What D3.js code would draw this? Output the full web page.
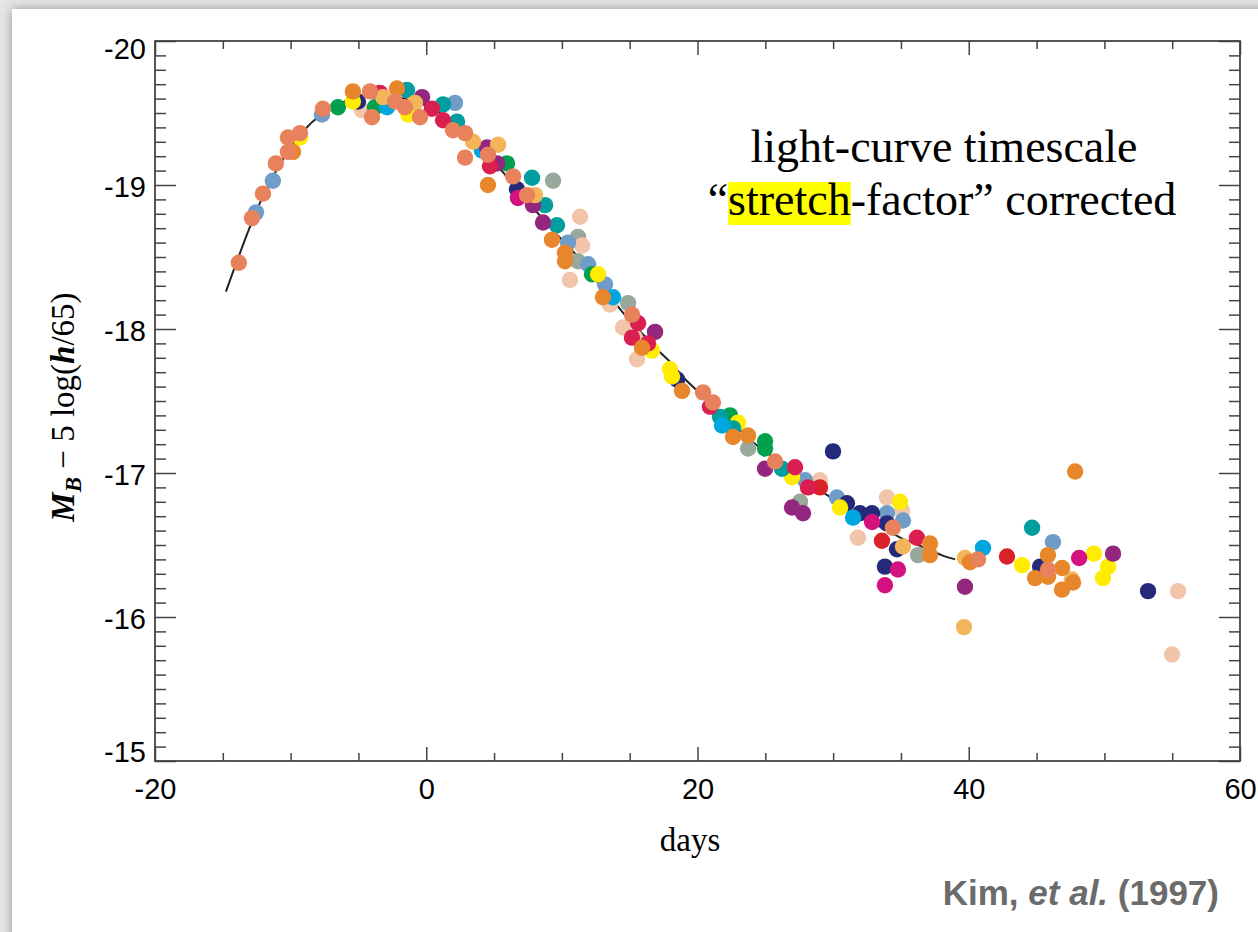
<!DOCTYPE html>
<html><head><meta charset="utf-8">
<script src="https://cdn.jsdelivr.net/npm/d3@7/dist/d3.min.js"></script>
<style>html,body{margin:0;padding:0;background:#e6e6e6;overflow:hidden}</style>
</head><body><svg id="c" width="1258" height="932"></svg>
<script>
// ---- data (day, M_B - 5 log(h/65)) per supernova colour group ----
const salmon = [[-13.82,-18.46],[-12.85,-18.77],[-12.04,-18.94],[-11.09,-19.15],[-10.20,-19.33],[-10.20,-19.23],[-9.31,-19.36],[-7.62,-19.53],[-4.15,-19.65],[-4.00,-19.47],[-2.30,-19.58],[-1.57,-19.54],[-0.46,-19.47],[1.97,-19.38],[2.86,-19.36],[2.86,-19.19],[4.55,-19.21],[6.40,-19.06],[7.43,-18.93],[15.17,-18.10],[20.41,-17.56],[21.14,-17.49],[25.72,-17.08],[34.41,-16.62],[40.68,-16.40],[45.84,-16.33]];
const blueGray = [[-12.55,-18.81],[-11.31,-19.03],[-7.69,-19.49],[2.12,-19.57],[10.45,-18.60],[11.93,-18.45],[13.18,-18.31],[27.93,-16.95],[30.28,-16.83],[33.97,-16.72],[35.15,-16.67],[46.21,-16.52]];
const green = [[-6.51,-19.54],[-3.78,-19.54],[5.95,-19.15],[12.22,-18.38],[22.40,-17.40],[24.98,-17.22],[24.98,-17.17]];
const navy = [[-5.04,-19.58],[6.69,-18.97],[18.49,-17.65],[29.99,-17.15],[31.02,-16.79],[31.98,-16.72],[32.87,-16.72],[33.97,-16.65],[33.82,-16.35],[34.71,-16.47],[45.26,-16.35],[53.22,-16.18]];
const yellow = [[-9.31,-19.33],[-5.41,-19.58],[-1.33,-19.49],[12.67,-18.38],[16.65,-17.85],[17.97,-17.72],[18.12,-17.67],[22.99,-17.35],[26.97,-16.97],[30.51,-16.76],[34.93,-16.80],[43.93,-16.36],[49.23,-16.44],[50.27,-16.35],[49.90,-16.27]];
const orange = [[-9.83,-19.23],[-5.41,-19.65],[-2.16,-19.67],[4.55,-19.00],[9.27,-18.62],[10.23,-18.53],[10.23,-18.47],[13.03,-18.22],[15.91,-17.87],[18.86,-17.57],[22.62,-17.25],[23.73,-17.26],[37.14,-16.51],[37.14,-16.43],[40.09,-16.38],[47.84,-17.01],[45.84,-16.43],[46.88,-16.34],[44.89,-16.27],[45.84,-16.28],[46.88,-16.19],[47.69,-16.24]];
const lightOrange = [[-3.19,-19.61],[-0.83,-19.57],[3.45,-19.30],[5.30,-19.28],[8.02,-18.93],[35.15,-16.49],[39.72,-16.41],[39.65,-15.93],[47.61,-16.26]];
const crimson = [[-3.42,-19.64],[0.42,-19.53],[1.24,-19.45],[4.70,-19.13],[15.62,-18.04],[15.17,-17.94],[16.35,-17.90],[20.92,-17.46],[27.19,-17.04],[28.15,-16.90],[36.18,-16.55]];
const magenta = [[6.76,-18.91],[32.87,-16.66],[34.78,-16.33],[33.82,-16.22],[48.14,-16.41]];
const purple = [[-0.31,-19.61],[4.48,-19.26],[5.22,-19.15],[7.87,-18.86],[8.61,-18.74],[16.87,-17.98],[24.98,-17.03],[26.97,-16.76],[27.78,-16.72],[39.72,-16.21],[50.64,-16.44]];
const teal = [[-1.42,-19.66],[1.24,-19.56],[2.27,-19.44],[7.80,-19.05],[8.76,-18.86],[9.64,-18.72],[21.66,-17.39],[22.62,-17.31],[26.23,-17.03],[44.67,-16.62]];
const cyan = [[-2.89,-19.54],[4.11,-19.24],[13.77,-18.22],[21.81,-17.33],[31.47,-16.69],[41.05,-16.48]];
const grayGreen = [[9.35,-19.03],[11.19,-18.64],[11.19,-18.47],[14.88,-18.18],[23.73,-17.17],[27.56,-16.80],[36.26,-16.43]];
const peach = [[-4.74,-19.52],[11.34,-18.78],[11.49,-18.58],[10.60,-18.34],[13.55,-18.17],[14.51,-18.01],[15.39,-17.94],[15.54,-17.79],[29.03,-16.95],[33.97,-16.83],[35.08,-16.74],[31.83,-16.55],[55.43,-16.18],[54.99,-15.74]];
const red = [[29.03,-16.90],[33.60,-16.53],[42.82,-16.42]];

// template light curve (stretch-corrected)
const curveDays = [-14.77,-14,-13,-12,-11,-10,-9,-8,-7,-6,-5,-4,-3,-2,-1,0,1,2,3,4,5,6,7,8,9,10,11,12,13,14,15,16,17,18,19,20,21,22,23,24,25,26,27,28,29,30,31,32,33,34,35,36,37,38,39];
const curveMags = [-18.26,-18.46,-18.71,-18.93,-19.11,-19.26,-19.38,-19.47,-19.53,-19.58,-19.61,-19.62,-19.62,-19.61,-19.58,-19.55,-19.50,-19.43,-19.35,-19.26,-19.16,-19.05,-18.94,-18.83,-18.72,-18.62,-18.52,-18.40,-18.28,-18.17,-18.06,-17.96,-17.86,-17.77,-17.66,-17.57,-17.48,-17.40,-17.31,-17.22,-17.15,-17.08,-17.01,-16.94,-16.88,-16.82,-16.76,-16.70,-16.65,-16.60,-16.55,-16.51,-16.47,-16.43,-16.40];

const xMajor = [-20, 0, 20, 40, 60];
const yMajor = [-20, -19, -18, -17, -16, -15];

const groups = [
  {data: grayGreen, color: "#98a89a"},
  {data: peach, color: "#f2c4a9"},
  {data: blueGray, color: "#6f9cc9"},
  {data: green, color: "#00a04e"},
  {data: navy, color: "#25297a"},
  {data: yellow, color: "#ffec00"},
  {data: teal, color: "#009e9e"},
  {data: cyan, color: "#00a6e0"},
  {data: purple, color: "#93277f"},
  {data: magenta, color: "#d4127f"},
  {data: red, color: "#d8232a"},
  {data: crimson, color: "#da1e50"},
  {data: lightOrange, color: "#f3b45a"},
  {data: orange, color: "#e8862c"},
  {data: salmon, color: "#e8825c"}
];

const svg = d3.select("#c");
const defs = svg.append("defs");
const f = defs.append("filter").attr("id","sh").attr("x","-5%").attr("y","-5%").attr("width","110%").attr("height","110%");
f.append("feDropShadow").attr("dx",0).attr("dy",0).attr("stdDeviation",6).attr("flood-color","#000").attr("flood-opacity",0.35);
svg.append("rect").attr("x",12).attr("y",9).attr("width",1300).attr("height",1000).attr("fill","#fff").attr("filter","url(#sh)");

const x = d3.scaleLinear().domain([-20, 60]).range([155, 1240]);
const y = d3.scaleLinear().domain([-20, -15]).range([41, 761]);
const axisColor = "#444";

// curve
const line = d3.line().x((d,i)=>x(curveDays[i])).y((d,i)=>y(curveMags[i])).curve(d3.curveCatmullRom);
svg.append("path").datum(curveDays).attr("d", line).attr("fill","none").attr("stroke","#222").attr("stroke-width",2);

// points
groups.forEach(g => {
  svg.append("g").selectAll("circle").data(g.data).join("circle")
    .attr("cx", d => x(d[0])).attr("cy", d => y(d[1])).attr("r", 8.2).attr("fill", g.color);
});

function styleAxis(sel){
  sel.selectAll("line").attr("stroke", axisColor).attr("stroke-width", 1.5);
  sel.select(".domain").remove();
  sel.selectAll("text").attr("fill","#000").attr("font-family","'Liberation Sans', Arial, sans-serif").attr("font-size", 29);
}
const fmt = d => String(d);
const xMinor = d3.range(-20, 60.01, 5).filter(v => !xMajor.includes(v));
const yMinor = d3.range(0, 51).map(i => +(-20 + i*0.1).toFixed(1)).filter(v => !yMajor.includes(v));

// bottom
svg.append("g").attr("transform","translate(0,761)").call(d3.axisBottom(x).tickValues(xMajor).tickSize(-14).tickPadding(17.5).tickFormat(fmt)).call(styleAxis);
svg.append("g").attr("transform","translate(0,761)").call(d3.axisBottom(x).tickValues(xMinor).tickSize(-8).tickFormat("")).call(styleAxis);
// top
svg.append("g").attr("transform","translate(0,41)").call(d3.axisTop(x).tickValues(xMajor).tickSize(-14).tickFormat("")).call(styleAxis);
svg.append("g").attr("transform","translate(0,41)").call(d3.axisTop(x).tickValues(xMinor).tickSize(-8).tickFormat("")).call(styleAxis);
// left
const yl = svg.append("g").attr("transform","translate(155,0)").call(d3.axisLeft(y).tickValues(yMajor).tickSize(-21).tickPadding(9).tickFormat(fmt)).call(styleAxis);
yl.selectAll(".tick text").attr("dy", d => d === -20 ? "0.62em" : d === -15 ? "0.02em" : "0.40em");
svg.append("g").attr("transform","translate(155,0)").call(d3.axisLeft(y).tickValues(yMinor).tickSize(-11).tickFormat("")).call(styleAxis);
// right
svg.append("g").attr("transform","translate(1240,0)").call(d3.axisRight(y).tickValues(yMajor).tickSize(-21).tickFormat("")).call(styleAxis);
svg.append("g").attr("transform","translate(1240,0)").call(d3.axisRight(y).tickValues(yMinor).tickSize(-11).tickFormat("")).call(styleAxis);
// frame
svg.append("rect").attr("x",155).attr("y",41).attr("width",1085).attr("height",720).attr("fill","none").attr("stroke",axisColor).attr("stroke-width",1.8);

// x label
svg.append("text").attr("x", 690).attr("y", 851).attr("text-anchor","middle")
  .attr("font-family","'Liberation Serif', 'Times New Roman', serif").attr("font-size", 33).text("days");

// y label
const yt = svg.append("text").attr("transform","translate(74,407) rotate(-90)").attr("text-anchor","middle")
  .attr("font-family","'Liberation Serif', 'Times New Roman', serif").attr("font-size", 33);
yt.append("tspan").attr("font-style","italic").attr("font-weight","bold").text("M");
yt.append("tspan").attr("font-style","italic").attr("font-weight","bold").attr("font-size", 23).attr("dy", 7).text("B");
yt.append("tspan").attr("dy", -7).text(" \u2212 5 log(");
yt.append("tspan").attr("font-style","italic").attr("font-weight","bold").text("h");
yt.append("tspan").text("/65)");

// annotation
const serif = "'Liberation Serif', 'Times New Roman', serif";
svg.append("text").attr("x", 944).attr("y", 162).attr("text-anchor","middle").attr("font-family", serif).attr("font-size", 46).text("light-curve timescale");
const hlG = svg.append("g");
const t2 = svg.append("text").attr("x", 942).attr("y", 215).attr("text-anchor","middle").attr("font-family", serif).attr("font-size", 46);
t2.append("tspan").text("\u201c");
t2.append("tspan").text("stretch");
t2.append("tspan").text("-factor\u201d corrected");
const node = t2.node();
const sx = node.getStartPositionOfChar(1).x;
const sw = node.getSubStringLength(1, 7);
hlG.append("rect").attr("x", sx).attr("y", 182).attr("width", sw).attr("height", 43).attr("fill", "#ffff00");

// citation
const kt = svg.append("text").attr("x", 1219).attr("y", 905).attr("text-anchor","end")
  .attr("font-family","'Liberation Sans', Arial, sans-serif").attr("font-size", 35).attr("font-weight","bold").attr("fill","#6b6b6b");
kt.append("tspan").text("Kim, ");
kt.append("tspan").attr("font-style","italic").text("et al.");
kt.append("tspan").text(" (1997)");
</script></body></html>
